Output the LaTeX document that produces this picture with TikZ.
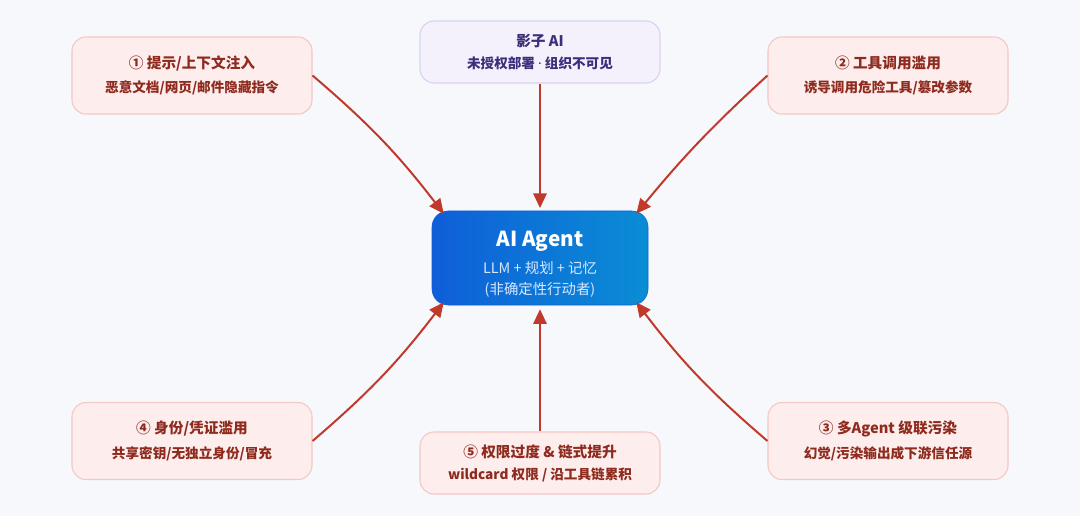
\documentclass[tikz,border=0pt]{standalone}
\usepackage{fontspec}
\setmainfont{Noto Sans CJK SC}
\newfontfamily\latinfont{Noto Sans}
\usetikzlibrary{arrows.meta,calc}

\definecolor{bgcol}{HTML}{F7F8FB}
\definecolor{riskfill}{HTML}{FDEDEC}
\definecolor{riskline}{HTML}{F4C8C3}
\definecolor{risktext}{HTML}{8E2A1E}
\definecolor{shadowfill}{HTML}{F4F1FC}
\definecolor{shadowline}{HTML}{D9D1F0}
\definecolor{shadowtext}{HTML}{3C2E7A}
\definecolor{agentleft}{HTML}{0F5ED8}
\definecolor{agentright}{HTML}{0A8DD5}
\definecolor{agentsub}{HTML}{D6E8FF}
\definecolor{arrowcol}{HTML}{C0392B}

\begin{document}
\begin{tikzpicture}[x=0.75pt, y=-0.75pt,
	risk/.style={draw=riskline, fill=riskfill, line width=0.8pt, rounded corners=10.5pt,
		minimum width=180pt, minimum height=57.75pt, align=center, text=risktext,
		font=\bfseries\fontsize{10.2}{18.5}\selectfont},
	smallrisk/.style={risk, minimum height=46.5pt, font=\bfseries\fontsize{10.2}{16.5}\selectfont},
	hit/.style={draw=arrowcol, line width=1.5pt, -{Triangle[length=11pt, width=10pt]}}
]
	\fill[bgcol] (0, 0) rectangle (1080, 516);

	\node[draw=agentleft, left color=agentleft, right color=agentright, rounded corners=12pt,
		minimum width=162pt, minimum height=70.5pt, align=center, text=white,
		font=\fontsize{10.8}{15.5}\selectfont] (agent) at (540, 258)
		{{\bfseries\fontsize{15.5}{22.5}\selectfont\rule{0pt}{21pt}AI Agent}\\[5pt]
		 \textcolor{agentsub}{LLM + 规划 + 记忆}\\\textcolor{agentsub}{(非确定性行动者)}};

	\node[risk] (inject) at (192, 75.5) {{\fontsize{11}{18.5}\selectfont ① 提示/上下文注入}\\恶意文档/网页/邮件隐藏指令};
	\node[draw=shadowline, fill=shadowfill, line width=0.8pt, rounded corners=10.5pt,
		minimum width=180pt, minimum height=46.5pt, align=center, text=shadowtext,
		font=\bfseries\fontsize{10.2}{16.5}\selectfont] (shadow) at (540, 52)
		{{\fontsize{11}{16.5}\selectfont 影子 AI}\\未授权部署 {\latinfont\bfseries ·} 组织不可见};
	\node[risk] (toolmis) at (888, 75.5) {{\fontsize{11}{18.5}\selectfont ② 工具调用滥用}\\诱导调用危险工具/篡改参数};
	\node[risk] (identity) at (192, 441) {{\fontsize{11}{18.5}\selectfont ④ 身份/凭证滥用}\\共享密钥/无独立身份/冒充};
	\node[smallrisk] (privesc) at (540, 463) {{\fontsize{11}{16.5}\selectfont ⑤ 权限过度 \& 链式提升}\\wildcard 权限 / 沿工具链累积};
	\node[risk] (cascade) at (888, 441) {{\fontsize{11}{18.5}\selectfont ③ 多Agent 级联污染}\\幻觉/污染输出成下游信任源};

	% arrow tips sit just inside the rounded corners
	\coordinate (nw) at ($(agent.north west)+(12, 3)$);
	\coordinate (ne) at ($(agent.north east)+(-12, 3)$);
	\coordinate (sw) at ($(agent.south west)+(12, -3)$);
	\coordinate (se) at ($(agent.south east)+(-12, -3)$);

	% threats pointing at the agent
	\draw[hit] (inject.east) to[bend left=6] (nw);
	\draw[hit] (toolmis.west) to[bend right=4] (ne);
	\draw[hit, shorten >=2pt] (shadow.south) -- (agent.north);
	\draw[hit] (identity.east) to[bend right=6] (sw);
	\draw[hit] (cascade.west) to[bend left=6] (se);
	\draw[hit, shorten >=3pt] (privesc.north) -- (agent.south);
\end{tikzpicture}
\end{document}
